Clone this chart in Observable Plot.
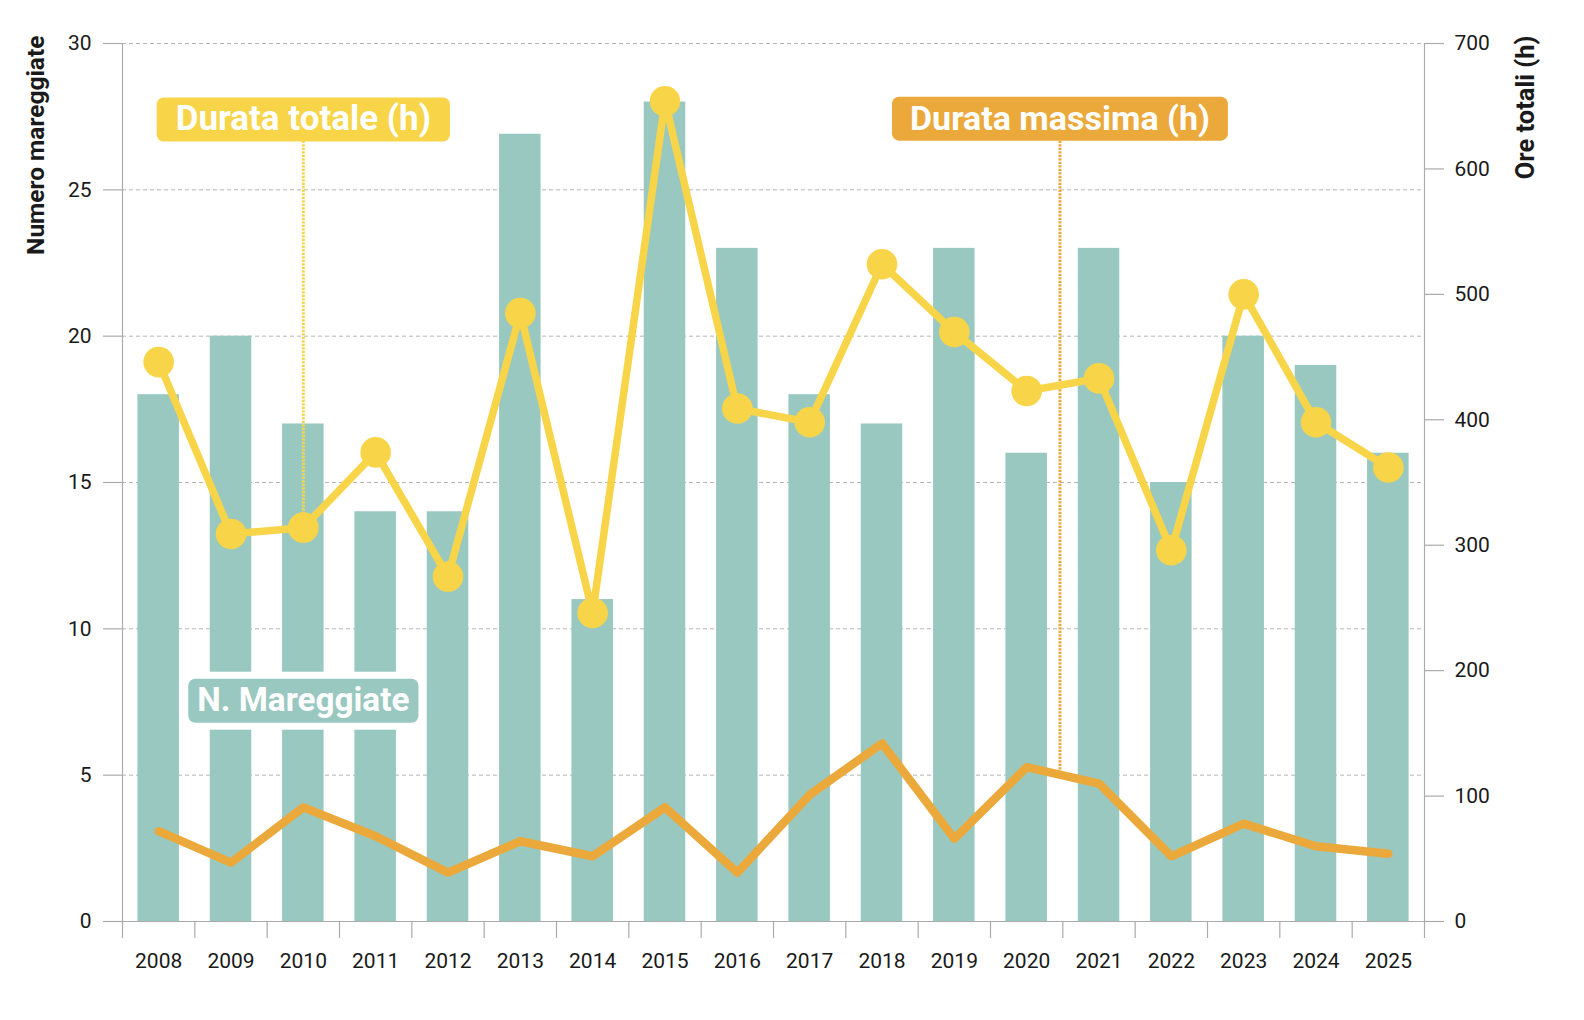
<!DOCTYPE html>
<html>
<head>
<meta charset="utf-8">
<script src="https://cdn.jsdelivr.net/npm/d3@7"></script>
<script src="https://cdn.jsdelivr.net/npm/@observablehq/plot@0.6"></script>
<style>
  html, body { margin: 0; padding: 0; background: #ffffff; }
  #chart svg { display: block; }
</style>
</head>
<body>
<div id="chart"></div>
<script>
// ---- data ----
const years = [2008, 2009, 2010, 2011, 2012, 2013, 2014, 2015, 2016, 2017, 2018, 2019, 2020, 2021, 2022, 2023, 2024, 2025];
const mareggiate = [18, 20, 17, 14, 14, 26.9, 11, 28, 23, 18, 17, 23, 16, 23, 15, 20, 19, 16];
const durataTotale = [446, 309, 314, 374, 275, 485, 246, 654, 409, 398, 524, 470, 423, 433, 296, 500, 398, 362];
const durataMassima = [72, 47, 91, 68, 39, 64, 52, 91, 39, 101, 142, 66, 123, 110, 52, 78, 60, 54];
const leftTicks = [0, 5, 10, 15, 20, 25, 30];
const rightTicks = [0, 100, 200, 300, 400, 500, 600, 700];
const leftTitle = "Numero mareggiate";
const rightTitle = "Ore totali (h)";
const seriesLabels = ["N. Mareggiate", "Durata totale (h)", "Durata massima (h)"];

// ---- styling ----
const teal = "#99c8c0", yellow = "#f8d548", orange = "#eba93b";
const axisGray = "#ababab", gridGray = "#b5b5b5", ink = "#1a1a1a";
const LMAX = 30, RMAX = 700;
const toLeft = h => h * LMAX / RMAX;   // hours -> left-axis units

const rows = years.map((year, i) => ({
  year, count: mareggiate[i], tot: durataTotale[i], max: durataMassima[i]
}));

// annotation anchors (in data units)
const massimaX = years[12] + 0.46;
const massimaAt = durataMassima[12] + 0.46 * (durataMassima[13] - durataMassima[12]);
const labelRows = [
  {text: seriesLabels[1], x: years[2], y: toLeft(640), fill: yellow, padX: 19, halo: 0, size: 35},
  {text: seriesLabels[2], x: massimaX, y: toLeft(640), fill: orange, padX: 18, halo: 0, size: 34},
  {text: seriesLabels[0], x: years[2], y: 7.55, fill: teal, padX: 9, halo: 7, size: 33.3}
];
const leaders = [
  {x: years[2], y1: toLeft(622), y2: toLeft(durataTotale[2]), stroke: yellow},
  {x: massimaX, y1: toLeft(622), y2: toLeft(massimaAt), stroke: orange}
];
const boundaries = years.map(y => y - 0.5).concat([years[years.length - 1] + 0.5]);
const half = 0.287;

const chart = Plot.plot({
  width: 1584,
  height: 1000,
  marginLeft: 122,
  marginRight: 160,
  marginTop: 43,
  marginBottom: 79,
  style: {fontFamily: "Roboto, 'DejaVu Sans', sans-serif", background: "#ffffff", overflow: "visible"},
  x: {type: "linear", domain: [boundaries[0], boundaries[boundaries.length - 1]], axis: null},
  y: {domain: [0, LMAX], axis: null},
  marks: [
    // dashed grid
    Plot.ruleY(leftTicks.filter(d => d > 0), {stroke: gridGray, strokeDasharray: "4,3", strokeWidth: 1}),
    // bars
    Plot.rectY(rows, {x1: d => d.year - half, x2: d => d.year + half, y1: 0, y2: "count", fill: teal}),
    // frame lines
    Plot.ruleY([0], {stroke: axisGray, strokeWidth: 1.2}),
    Plot.ruleX([boundaries[0], boundaries[boundaries.length - 1]], {stroke: axisGray, strokeWidth: 1.2}),
    // left axis
    Plot.axisY(leftTicks, {anchor: "left", tickSize: 19, tickPadding: 12, label: null,
      stroke: axisGray, fill: ink, fontSize: 21, strokeWidth: 1.2}),
    // right axis
    Plot.axisY(rightTicks.map(toLeft), {anchor: "right", tickSize: 19, tickPadding: 11, label: null,
      tickFormat: d => String(Math.round(d * RMAX / LMAX)),
      stroke: axisGray, fill: ink, fontSize: 21, strokeWidth: 1.2}),
    // x boundary ticks
    Plot.axisX(boundaries, {anchor: "bottom", tickSize: 17, tickFormat: () => "", label: null,
      stroke: axisGray, strokeWidth: 1.2}),
    // x labels
    Plot.axisX(years, {anchor: "bottom", tickSize: 0, tickPadding: 32, label: null,
      tickFormat: d => String(d), fill: ink, fontSize: 21}),
    // axis titles
    Plot.text([leftTitle], {text: d => d, frameAnchor: "top-left", rotate: -90, textAnchor: "end",
      lineAnchor: "middle", dx: -86, dy: -8, fontWeight: "bold", fontSize: 24.5, fill: ink}),
    Plot.text([rightTitle], {text: d => d, frameAnchor: "top-right", rotate: -90, textAnchor: "end",
      lineAnchor: "middle", dx: 101, dy: -8, fontWeight: "bold", fontSize: 25.5, fill: ink}),
    // N. Mareggiate label (boxes added after render)
    Plot.text(labelRows.slice(2), {x: "x", y: "y", text: "text", fill: "#ffffff", fontWeight: "bold",
      fontSize: "size", lineAnchor: "middle", textAnchor: "middle"}),
    // leader lines
    Plot.ruleX(leaders, {x: "x", y1: "y1", y2: "y2", stroke: "stroke", strokeWidth: 3, strokeDasharray: "2.2,1.3"}),
    // durata massima line
    Plot.line(rows, {x: "year", y: d => toLeft(d.max), stroke: orange, strokeWidth: 8.5,
      strokeLinejoin: "round", strokeLinecap: "round"}),
    // durata totale line + dots
    Plot.line(rows, {x: "year", y: d => toLeft(d.tot), stroke: yellow, strokeWidth: 7.5,
      strokeLinejoin: "round", strokeLinecap: "round"}),
    Plot.dot(rows, {x: "year", y: d => toLeft(d.tot), r: 15.3, fill: yellow, stroke: "none"}),
    // durata labels
    Plot.text(labelRows.slice(0, 2), {x: "x", y: "y", text: "text", fill: "#ffffff", fontWeight: "bold",
      fontSize: "size", lineAnchor: "middle", textAnchor: "middle"})
  ]
});

document.getElementById("chart").append(chart);

// rounded boxes behind the series labels, sized from the rendered text
const svgNS = "http://www.w3.org/2000/svg";
const svgRect = chart.getBoundingClientRect();
const allTexts = Array.from(chart.querySelectorAll("text"));
for (const spec of labelRows) {
  const t = allTexts.find(e => e.textContent === spec.text);
  if (!t) continue;
  const r = t.getBoundingClientRect();
  const cx = r.left - svgRect.left + r.width / 2;
  const cy = r.top - svgRect.top + r.height / 2 + 1;
  const w = r.width + 2 * spec.padX, h = 44;
  let markG = t;
  while (markG.parentNode && markG.parentNode !== chart) markG = markG.parentNode;
  const g = document.createElementNS(svgNS, "g");
  if (spec.halo) {
    const halo = document.createElementNS(svgNS, "rect");
    halo.setAttribute("x", cx - w / 2 - spec.halo);
    halo.setAttribute("y", cy - h / 2 - spec.halo);
    halo.setAttribute("width", w + 2 * spec.halo);
    halo.setAttribute("height", h + 2 * spec.halo);
    halo.setAttribute("fill", "#ffffff");
    g.appendChild(halo);
  }
  const box = document.createElementNS(svgNS, "rect");
  box.setAttribute("x", cx - w / 2);
  box.setAttribute("y", cy - h / 2);
  box.setAttribute("width", w);
  box.setAttribute("height", h);
  box.setAttribute("rx", 7);
  box.setAttribute("ry", 7);
  box.setAttribute("fill", spec.fill);
  g.appendChild(box);
  chart.insertBefore(g, markG);
}
</script>
</body>
</html>
